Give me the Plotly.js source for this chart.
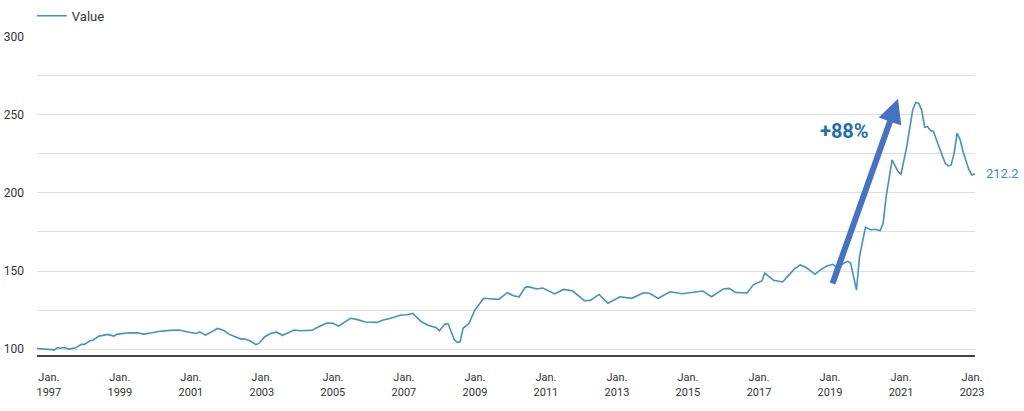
<!DOCTYPE html>
<html>
<head>
<meta charset="utf-8">
<script src="https://cdn.plot.ly/plotly-3.0.1.min.js"></script>
<style>
  html, body { margin: 0; padding: 0; background: #fff; }
  #chart { width: 1024px; height: 411px; }
</style>
</head>
<body>
<div id="chart"></div>
<script>
const dates = [
  '1996-09','1997-01','1997-03','1997-04','1997-05','1997-06','1997-08','1997-10','1997-12',
  '1998-01','1998-03','1998-04','1998-06','1998-09','1998-11','1998-12',
  '1999-04','1999-07','1999-09','1999-12',
  '2000-02','2000-06','2000-09','2000-12',
  '2001-03','2001-04','2001-06','2001-08','2001-10','2001-12',
  '2002-02','2002-06','2002-07','2002-09','2002-11','2002-12',
  '2003-02','2003-04','2003-06','2003-08','2003-12',
  '2004-02','2004-06','2004-08','2004-11',
  '2005-01','2005-03','2005-07','2005-09','2005-12',
  '2006-04','2006-06','2006-08','2006-12',
  '2007-02','2007-04','2007-07','2007-09','2007-12',
  '2008-01','2008-03','2008-04','2008-06','2008-07','2008-08','2008-09','2008-11',
  '2009-01','2009-02','2009-04','2009-06','2009-09','2009-12',
  '2010-02','2010-04','2010-06','2010-07','2010-10','2010-12',
  '2011-04','2011-07','2011-10',
  '2012-02','2012-04','2012-07','2012-10',
  '2013-02','2013-06','2013-10','2013-12',
  '2014-03','2014-07','2014-11',
  '2015-04','2015-06','2015-09',
  '2016-01','2016-03','2016-05','2016-09','2016-11',
  '2017-02','2017-03','2017-06','2017-09','2017-11',
  '2018-01','2018-03','2018-05','2018-08','2018-10','2018-12',
  '2019-02','2019-03','2019-05','2019-07','2019-08','2019-10','2019-11',
  '2020-01','2020-03','2020-04','2020-06','2020-07','2020-08','2020-10','2020-12',
  '2021-01','2021-03','2021-05','2021-06','2021-07','2021-08','2021-09','2021-10','2021-11','2021-12',
  '2022-02','2022-04','2022-05','2022-06','2022-07','2022-08','2022-09','2022-10','2022-12',
  '2023-01','2023-02'
];
const values = [
  100.4,100.0,99.5,101.0,100.5,101.0,100.0,100.8,103.0,
  103.0,105.3,105.8,108.3,109.4,108.3,109.4,
  110.4,110.4,109.6,110.4,
  111.3,112.0,112.2,110.9,
  110.0,111.0,109.0,111.0,113.2,112.0,
  109.4,106.4,106.6,105.3,102.8,103.6,
  107.9,110.0,110.8,108.8,112.2,
  111.7,112.0,114.1,116.7,
  116.5,114.7,119.7,119.0,117.3,
  117.1,118.6,119.4,121.8,
  122.0,122.8,117.5,115.4,113.7,
  111.7,116.2,116.0,106.2,104.3,104.7,113.3,116.5,
  125.0,127.6,132.5,132.2,131.8,136.1,
  134.2,133.5,139.5,140.0,138.5,139.1,
  135.3,138.2,137.3,
  131.0,131.2,135.0,129.3,
  133.5,132.5,136.1,135.7,
  132.5,136.7,135.4,
  136.5,137.2,133.5,
  138.5,138.9,136.3,135.9,141.0,
  143.8,148.7,144.0,143.0,147.2,
  151.3,153.9,152.2,147.9,151.0,153.2,
  154.3,152.8,154.2,156.2,155.2,137.8,159.2,
  178.0,176.3,176.7,175.9,180.6,197.6,221.2,213.7,
  212.0,229.7,253.2,257.9,257.5,253.2,242.1,242.5,240.0,239.3,
  228.6,219.0,217.3,217.9,225.4,238.3,234.0,226.5,214.7,
  211.5,212.2
];
const seriesName = 'Value';
const tickYears = [1997,1999,2001,2003,2005,2007,2009,2011,2013,2015,2017,2019,2021,2023];
const yTicks = [100,125,150,175,200,225,250,275,300];
const yTickLabels = ['100','','150','','200','','250','','300'];
const changeLabel = '+88%';
const lastLabel = '212.2';

const lineColor = '#4193c1';

const trace = {
  x: dates,
  y: values,
  type: 'scatter',
  mode: 'lines',
  name: seriesName,
  line: { color: lineColor, width: 1.6 },
  hoverinfo: 'x+y'
};

const layout = {
  width: 1024,
  height: 411,
  margin: { l: 37, r: 49, t: 36, b: 56 },
  paper_bgcolor: '#ffffff',
  plot_bgcolor: '#ffffff',
  font: { family: 'Roboto, "Open Sans", sans-serif', color: '#333333', size: 12 },
  showlegend: true,
  legend: {
    orientation: 'h',
    x: -0.0055, xanchor: 'left', xref: 'paper',
    y: 0.998, yanchor: 'top', yref: 'container',
    font: { size: 13, color: '#333333' },
    bgcolor: 'rgba(0,0,0,0)',
    itemwidth: 30
  },
  xaxis: {
    type: 'date',
    range: ['1996-09-01', '2023-02-01'],
    tickvals: tickYears.map(y => y + '-01-01'),
    ticktext: tickYears.map(y => 'Jan.<br>' + y),
    showgrid: false,
    zeroline: false,
    showline: true,
    linecolor: '#444444',
    linewidth: 2,
    ticks: 'outside',
    ticklen: 11,
    tickcolor: 'rgba(0,0,0,0)',
    tickfont: { size: 11, color: '#333333' },
    fixedrange: true
  },
  yaxis: {
    range: [96.2, 300.5],
    tickvals: yTicks,
    ticktext: yTickLabels,
    showgrid: true,
    gridcolor: '#dedede',
    gridwidth: 1,
    zeroline: false,
    showline: false,
    ticks: '',
    ticklabelstandoff: 12,
    tickfont: { size: 12, color: '#333333' },
    fixedrange: true
  },
  annotations: [
    {
      x: '2020-12-01', y: 260.3, xref: 'x', yref: 'y',
      ax: '2019-01-22', ay: 141.0, axref: 'x', ayref: 'y',
      text: '', showarrow: true,
      arrowhead: 2, arrowsize: 0.8, arrowwidth: 6,
      arrowcolor: '#4472c4', standoff: 0
    },
    {
      x: '2019-06-01', y: 239.7, xref: 'x', yref: 'y',
      text: '<b>' + changeLabel + '</b>', showarrow: false,
      font: { size: 20, color: '#1f6fb7', family: 'Roboto, sans-serif' },
      xanchor: 'center', yanchor: 'middle'
    },
    {
      x: dates[dates.length - 1], y: values[values.length - 1], xref: 'x', yref: 'y',
      text: lastLabel, showarrow: false,
      xanchor: 'left', yanchor: 'middle', xshift: 9,
      font: { size: 13, color: '#3a8fc4' }
    }
  ]
};

Plotly.newPlot('chart', [trace], layout, { displayModeBar: false, staticPlot: true });
</script>
</body>
</html>
